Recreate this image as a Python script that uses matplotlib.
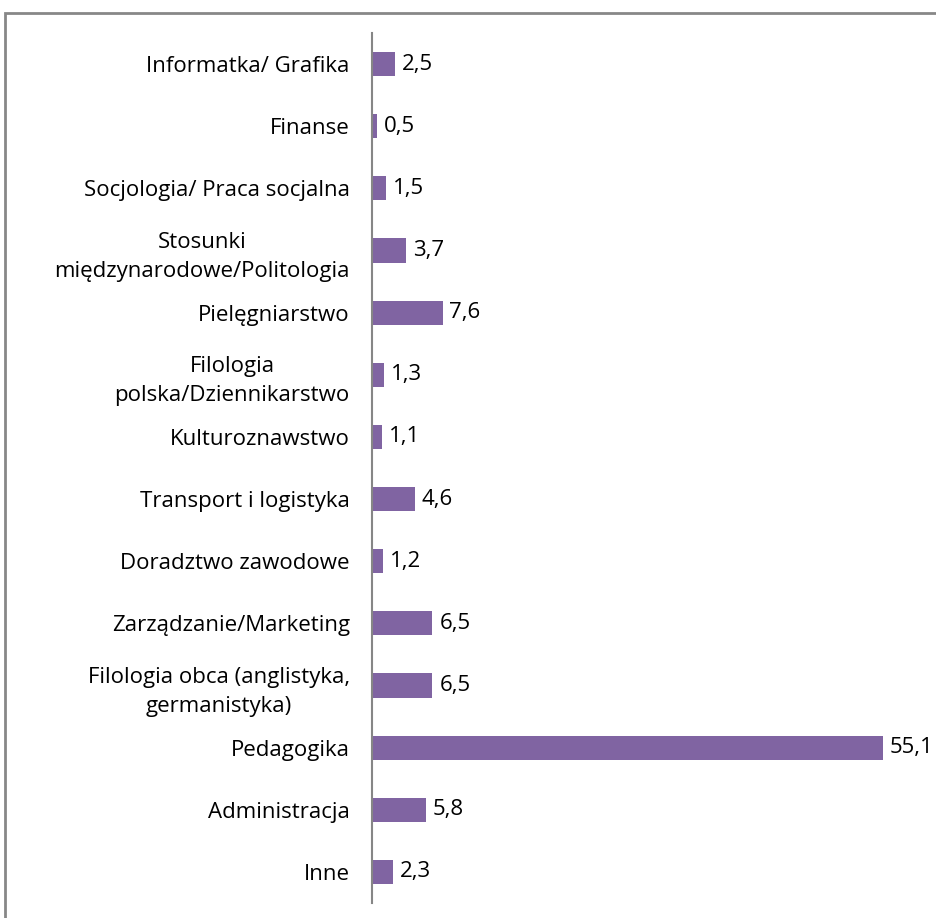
import matplotlib.pyplot as plt
from matplotlib.patches import Rectangle

categories = [
    "Informatka/ Grafika",
    "Finanse",
    "Socjologia/ Praca socjalna",
    "Stosunki\nmiędzynarodowe/Politologia",
    "Pielęgniarstwo",
    "Filologia\npolska/Dziennikarstwo",
    "Kulturoznawstwo",
    "Transport i logistyka",
    "Doradztwo zawodowe",
    "Zarządzanie/Marketing",
    "Filologia obca (anglistyka,\ngermanistyka)",
    "Pedagogika",
    "Administracja",
    "Inne",
]
values = [2.5, 0.5, 1.5, 3.7, 7.6, 1.3, 1.1, 4.6, 1.2, 6.5, 6.5, 55.1, 5.8, 2.3]

plt.rcParams['font.family'] = ['Open Sans', 'DejaVu Sans']
FS = 16

fig = plt.figure(figsize=(9.36, 9.18), dpi=100)
ax = fig.add_axes([372 / 936, 15 / 918, 1 - 372 / 936, 870 / 918])

pos = list(range(len(categories)))
ax.barh(pos, values, height=0.39, color="#8064A2")

for y, v in zip(pos, values):
    ax.text(v + 0.75, y, f"{v:.1f}".replace(".", ","), va="center", ha="left",
            fontsize=FS, color="black")

ax.set_ylim(len(categories) - 0.5, -0.5)
ax.set_xlim(0, 60.8)
ax.set_yticks(pos)
ax.set_yticklabels(categories, fontsize=FS, multialignment="center", linespacing=1.5)
ax.tick_params(axis="y", length=0, pad=16)
ax.set_xticks([])

for side in ["top", "right", "bottom"]:
    ax.spines[side].set_visible(False)
ax.spines["left"].set_color("#868686")
ax.spines["left"].set_linewidth(1.5)

# outer chart frame
fig.patches.append(Rectangle((5 / 936, -0.1), 1.2, 1 - 13 / 918 + 0.1,
                             transform=fig.transFigure, fill=False,
                             edgecolor="#878787", linewidth=2))

fig.savefig("out.png", dpi=100)
